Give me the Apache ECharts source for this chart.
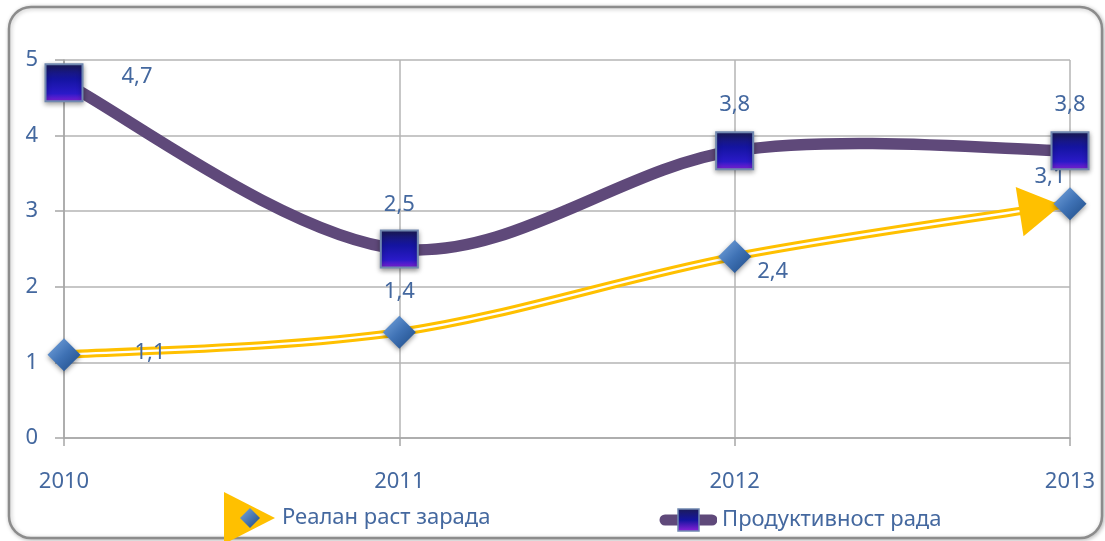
<!DOCTYPE html>
<html><head><meta charset="utf-8">
<script src="https://cdn.jsdelivr.net/npm/echarts@6/dist/echarts.min.js"></script>
<style>html,body{margin:0;padding:0;background:#fff}#c{width:1105px;height:541px}</style>
</head><body><div id="c"></div>
<script>
const years = ['2010', '2011', '2012', '2013'];
const wages = [1.1, 1.4, 2.4, 3.1];
const productivity = [4.7, 2.5, 3.8, 3.8];
const yTicks = [0, 1, 2, 3, 4, 5];
const wagesName = 'Реалан раст зарада';
const prodName = 'Продуктивност рада';

// label offsets (style only)
const wagesLabelOffsets = [[86, -2], [0, -40], [38, 15], [-20, -27]];
const prodLabelOffsets = [[73, -6], [0, -44], [0, -46], [0, -46]];

const FONT = 'Noto Sans';
const FS = 22;
const TXT = '#44689f';
const fmt = p => String(p.value).replace('.', ',');

const squareFill = {type:'linear',x:0,y:0,x2:0,y2:1,colorStops:[
  {offset:0,color:'#1c1c5a'},{offset:0.4,color:'#1414a0'},{offset:0.78,color:'#2a1ac8'},{offset:1,color:'#8a22d8'}]};
const diamondFill = {type:'linear',x:0,y:0,x2:1,y2:1,colorStops:[
  {offset:0,color:'#7aa8e0'},{offset:0.5,color:'#3f72b5'},{offset:1,color:'#1d4a85'}]};

function svgIcon(svg){ return 'image://data:image/svg+xml;charset=utf-8,' + encodeURIComponent(svg); }
const icon1 = svgIcon('<svg xmlns="http://www.w3.org/2000/svg" width="53" height="52" viewBox="0 0 53 52">'+
 '<defs><linearGradient id="g" x1="0" y1="0" x2="1" y2="1"><stop offset="0" stop-color="#7aa8e0"/><stop offset="1" stop-color="#1d4a85"/></linearGradient></defs>'+
 '<polygon points="0,0 51,26 0,52" fill="#ffc000"/>'+
 '<polygon points="26,16 36,26 26,36 16,26" fill="url(#g)"/></svg>');
const icon2 = svgIcon('<svg xmlns="http://www.w3.org/2000/svg" width="58" height="24" viewBox="0 0 58 24">'+
 '<defs><linearGradient id="s" x1="0" y1="0" x2="0" y2="1"><stop offset="0" stop-color="#1c1c5a"/><stop offset="0.5" stop-color="#1414a0"/><stop offset="1" stop-color="#8a22d8"/></linearGradient></defs>'+
 '<line x1="6" y1="12" x2="53" y2="12" stroke="#5f497a" stroke-width="11" stroke-linecap="round"/>'+
 '<rect x="19" y="1" width="21" height="22" fill="url(#s)" stroke="#7088b0" stroke-width="1.5"/></svg>');

// Catmull-Rom style smooth path (Excel-like) through points mapped by the axes
function smoothPath(api, values) {
  const pts = values.map((v, i) => api.coord([i, v]));
  const n = pts.length;
  let d = 'M' + pts[0][0] + ' ' + pts[0][1];
  for (let i = 0; i < n - 1; i++) {
    const p0 = pts[Math.max(0, i - 1)], p1 = pts[i], p2 = pts[i + 1], p3 = pts[Math.min(n - 1, i + 2)];
    const c1 = [p1[0] + (p2[0] - p0[0]) / 6, p1[1] + (p2[1] - p0[1]) / 6];
    const c2 = [p2[0] - (p3[0] - p1[0]) / 6, p2[1] - (p3[1] - p1[1]) / 6];
    d += ' C' + c1[0] + ' ' + c1[1] + ' ' + c2[0] + ' ' + c2[1] + ' ' + p2[0] + ' ' + p2[1];
  }
  return {d, pts};
}

function renderWages(params, api) {
  if (params.dataIndex !== 0) return null;
  const {d, pts} = smoothPath(api, wages);
  const n = pts.length;
  const end = pts[n - 1], prev = pts[n - 2];
  const dx = end[0] - prev[0], dy = end[1] - prev[1];
  const L = Math.hypot(dx, dy), ux = dx / L, uy = dy / L;
  const tip = [end[0] - 9 * ux, end[1] - 9 * uy];
  const base = [tip[0] - 42 * ux, tip[1] - 42 * uy];
  const px = -uy, py = ux;
  return {type: 'group', children: [
    {type: 'path', shape: {pathData: d}, style: {fill: null, stroke: '#ffc000', lineWidth: 8.5}},
    {type: 'path', shape: {pathData: d}, style: {fill: null, stroke: '#ffffff', lineWidth: 2.4}},
    {type: 'polygon', shape: {points: [tip, [base[0] + 25 * px, base[1] + 25 * py], [base[0] - 25 * px, base[1] - 25 * py]]},
      style: {fill: '#ffc000'}}
  ]};
}
function renderProd(params, api) {
  if (params.dataIndex !== 0) return null;
  const {d} = smoothPath(api, productivity);
  return {type: 'path', shape: {pathData: d}, style: {fill: null, stroke: '#5f497a', lineWidth: 11.5, lineJoin: 'round'}};
}

const chart = echarts.init(document.getElementById('c'), null, {renderer:'canvas'});
chart.setOption({
  animation: false,
  backgroundColor: '#fff',
  graphic: [{
    type: 'rect', z: -10, silent: true,
    shape: {x: 9, y: 7, width: 1093, height: 531, r: 22},
    style: {fill: '#fff', stroke: '#8c8c8c', lineWidth: 2.5, shadowBlur: 4, shadowColor: 'rgba(0,0,0,0.25)', shadowOffsetX: 1, shadowOffsetY: 1}
  }],
  grid: {left: 64, right: 35, top: 60, bottom: 103, containLabel: false},
  legend: [{
    data: [{name: wagesName, icon: icon1}],
    left: 219, top: 487, itemWidth: 53, itemHeight: 52,
    textStyle: {fontFamily: FONT, fontSize: FS, color: TXT}
  }, {
    data: [{name: prodName, icon: icon2}],
    left: 654, top: 503, itemWidth: 58, itemHeight: 24,
    textStyle: {fontFamily: FONT, fontSize: FS, color: TXT}
  }],
  xAxis: {
    type: 'category', data: years, boundaryGap: false,
    axisLine: {show: true, lineStyle: {color: '#a6a6a6', width: 1.5}},
    axisTick: {show: true, length: 8, lineStyle: {color: '#a6a6a6', width: 1.5}},
    axisLabel: {fontFamily: FONT, fontSize: FS, color: TXT, margin: 33},
    splitLine: {show: true, lineStyle: {color: '#b4b4b4', width: 1.5}}
  },
  yAxis: {
    type: 'value', min: 0, max: 5, interval: 1,
    axisLine: {show: true, lineStyle: {color: '#a6a6a6', width: 1.5}},
    axisTick: {show: true, length: 9, lineStyle: {color: '#a6a6a6', width: 1.5}},
    axisLabel: {fontFamily: FONT, fontSize: FS, color: TXT, margin: 26,
      formatter: v => yTicks.includes(v) ? String(v) : ''},
    splitLine: {show: true, lineStyle: {color: '#b4b4b4', width: 1.5}}
  },
  series: [{
    name: wagesName, type: 'custom', renderItem: renderWages, z: 2, silent: true,
    data: wages.map((v, i) => [i, v]), encode: {x: 0, y: 1}
  }, {
    name: prodName, type: 'custom', renderItem: renderProd, z: 3, silent: true,
    data: productivity.map((v, i) => [i, v]), encode: {x: 0, y: 1}
  }, {
    name: wagesName, type: 'line', data: wages,
    lineStyle: {width: 0, opacity: 0},
    symbol: 'diamond', symbolSize: 33, z: 4,
    itemStyle: {color: diamondFill, shadowBlur: 5, shadowColor: 'rgba(0,0,0,0.4)', shadowOffsetY: 2},
    label: {show: true, position: 'inside', formatter: fmt, fontFamily: FONT, fontSize: FS, color: TXT},
    labelLayout: p => ({dx: wagesLabelOffsets[p.dataIndex][0], dy: wagesLabelOffsets[p.dataIndex][1]})
  }, {
    name: prodName, type: 'line', data: productivity,
    lineStyle: {width: 0, opacity: 0},
    symbol: 'rect', symbolSize: 37, z: 5,
    itemStyle: {color: squareFill, borderColor: '#7088b0', borderWidth: 2, shadowBlur: 5, shadowColor: 'rgba(0,0,0,0.4)', shadowOffsetY: 2},
    label: {show: true, position: 'inside', formatter: fmt, fontFamily: FONT, fontSize: FS, color: TXT},
    labelLayout: p => ({dx: prodLabelOffsets[p.dataIndex][0], dy: prodLabelOffsets[p.dataIndex][1]})
  }]
});
</script></body></html>
